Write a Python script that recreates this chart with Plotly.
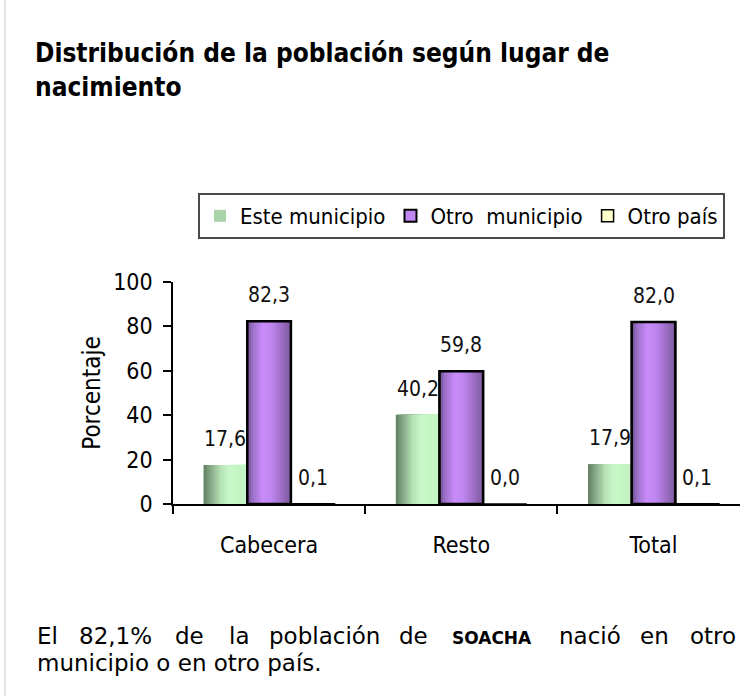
import plotly.graph_objects as go

# ---- data -------------------------------------------------------------
categories = ["Cabecera", "Resto", "Total"]
este_municipio = [17.6, 40.2, 17.9]
otro_municipio = [82.3, 59.8, 82.0]
otro_pais = [0.1, 0.0, 0.1]
series_names = ["Este municipio", "Otro\u00a0 municipio", "Otro país"]
y_ticks = [0, 20, 40, 60, 80, 100]

title_text = "<b>Distribución de la población según lugar de<br>nacimiento</b>"
note_line1 = ["El", "82,1%", "de", "la", "población", "de", "SOACHA", "nació", "en", "otro"]
note_line2 = "municipio o en otro país."

# ---- geometry helpers -------------------------------------------------
W, H = 740, 696
ML, MR, MT, MB = 173, 0, 282, 192
PW, PH = W - ML - MR, H - MT - MB


def px(x):
    return (x - ML) / PW


def py(y):
    return (H - MB - y) / PH


BAR_W = 0.227
left_edges = [-1.5 * BAR_W, -0.5 * BAR_W, 0.5 * BAR_W]
N_STRIPS = 24

CHART_FONT = "DejaVu Sans Condensed, DejaVu Sans, sans-serif"


def hex2rgb(h):
    h = h.lstrip("#")
    return tuple(int(h[i:i + 2], 16) for i in (0, 2, 4))


def gradient(stops, t):
    for (t0, c0), (t1, c1) in zip(stops, stops[1:]):
        if t0 <= t <= t1:
            f = (t - t0) / (t1 - t0) if t1 > t0 else 0
            a, b = hex2rgb(c0), hex2rgb(c1)
            return "rgb(%d,%d,%d)" % tuple(round(a[i] + (b[i] - a[i]) * f) for i in range(3))
    return stops[-1][1]


green_stops = [(0.0, "#5f7d5f"), (0.12, "#7e9e7e"), (0.4, "#b8e4b8"), (0.6, "#c8f8c8"), (1.0, "#c2f2c2")]
purple_stops = [(0.0, "#6c4e88"), (0.12, "#9b70c8"), (0.35, "#c98bf9"), (0.55, "#c086f0"), (0.85, "#9468bb"), (1.0, "#7a5898")]


def add_shading(values, left, stops):
    # each strip runs to the bar's right edge so neighbours overlap without seams
    for k in range(N_STRIPS):
        start = k * BAR_W / N_STRIPS
        fig.add_trace(go.Bar(
            x=categories, y=values, showlegend=False,
            offset=left + start, width=BAR_W - start,
            marker=dict(color=gradient(stops, (k + 0.5) / N_STRIPS), line=dict(width=0)),
            hoverinfo="skip",
        ))


fig = go.Figure()

# Este municipio: base bar (legend) + shading
fig.add_trace(go.Bar(
    x=categories, y=este_municipio, name=series_names[0],
    offset=left_edges[0], width=BAR_W,
    marker=dict(color="#a9d4a9", line=dict(width=0)),
    hoverinfo="skip",
))
add_shading(este_municipio, left_edges[0], green_stops)

# Otro municipio: base bar (legend) + shading + outline
fig.add_trace(go.Bar(
    x=categories, y=otro_municipio, name=series_names[1],
    offset=left_edges[1], width=BAR_W,
    marker=dict(color="#c088f0", line=dict(width=2, color="black")),
    hoverinfo="skip",
))
add_shading(otro_municipio, left_edges[1], purple_stops)
fig.add_trace(go.Bar(
    x=categories, y=otro_municipio, showlegend=False,
    offset=left_edges[1], width=BAR_W,
    marker=dict(color="rgba(0,0,0,0)", line=dict(width=2.5, color="black")),
    hoverinfo="skip",
))

# Otro país
fig.add_trace(go.Bar(
    x=categories, y=otro_pais, name=series_names[2],
    offset=left_edges[2], width=BAR_W,
    marker=dict(color="#ffffcc", line=dict(width=1.5, color="black")),
    hoverinfo="skip",
))

annotations = []

# value labels above each bar
for s, values in enumerate([este_municipio, otro_municipio, otro_pais]):
    for i, v in enumerate(values):
        annotations.append(dict(
            x=i + left_edges[s] + BAR_W / 2, y=v, xref="x", yref="y",
            text=f"{v:.1f}".replace(".", ","), showarrow=False,
            yshift=26, xanchor="center", yanchor="middle",
            font=dict(family=CHART_FONT, size=21, color="#111111"),
        ))

# title
annotations.append(dict(
    x=px(33), y=py(36), xref="paper", yref="paper",
    xanchor="left", yanchor="top", align="left", showarrow=False,
    text=title_text,
    font=dict(family="DejaVu Sans Condensed, sans-serif", size=26, color="black"),
))

# closing note, justified across the first line
line1_x = [35, 77, 173, 227, 267, 397, 450, 557, 638, 688]
for word, x0 in zip(note_line1, line1_x):
    bold = word == "SOACHA"
    annotations.append(dict(
        x=px(x0), y=py(638 if bold else 636), xref="paper", yref="paper",
        xanchor="left", yanchor="middle", showarrow=False,
        text=f"<b>{word}</b>" if bold else word,
        font=dict(family="DejaVu Sans, sans-serif", size=17 if bold else 23, color="black"),
    ))
annotations.append(dict(
    x=px(35), y=py(663), xref="paper", yref="paper",
    xanchor="left", yanchor="middle", showarrow=False,
    text=note_line2,
    font=dict(family="DejaVu Sans, sans-serif", size=23, color="black"),
))

fig.update_layout(
    width=W, height=H,
    margin=dict(l=ML, r=MR, t=MT, b=MB, pad=0),
    paper_bgcolor="white", plot_bgcolor="white",
    barmode="overlay",
    showlegend=True,
    legend=dict(
        orientation="h", x=px(198), y=py(193), xanchor="left", yanchor="top",
        xref="paper", yref="paper",
        bordercolor="#4a4a4a", borderwidth=2, bgcolor="white",
        font=dict(family=CHART_FONT, size=22, color="black"),
        itemwidth=30, tracegroupgap=0,
    ),
    annotations=annotations,
    shapes=[dict(
        type="line", xref="paper", yref="paper",
        x0=px(5), x1=px(5), y0=py(0), y1=py(H),
        line=dict(color="#e4e4e4", width=2),
    )],
    xaxis=dict(
        type="category", range=[-0.5, 2.45],
        showline=True, linecolor="black", linewidth=1.5,
        ticks="outside", ticklen=8, tickwidth=1.5, tickcolor="black",
        tickson="boundaries", ticklabelstandoff=20,
        showgrid=False, zeroline=False,
        tickfont=dict(family=CHART_FONT, size=23, color="black"),
    ),
    yaxis=dict(
        range=[0, 100], tickvals=y_ticks,
        showline=True, linecolor="black", linewidth=1.5,
        ticks="outside", ticklen=8, tickwidth=1.5, tickcolor="black",
        ticklabelstandoff=6,
        showgrid=False, zeroline=False,
        tickfont=dict(family=CHART_FONT, size=23, color="black"),
        title=dict(text="Porcentaje", standoff=6,
                   font=dict(family=CHART_FONT, size=24, color="black")),
    ),
)

fig.write_html("out.html")
